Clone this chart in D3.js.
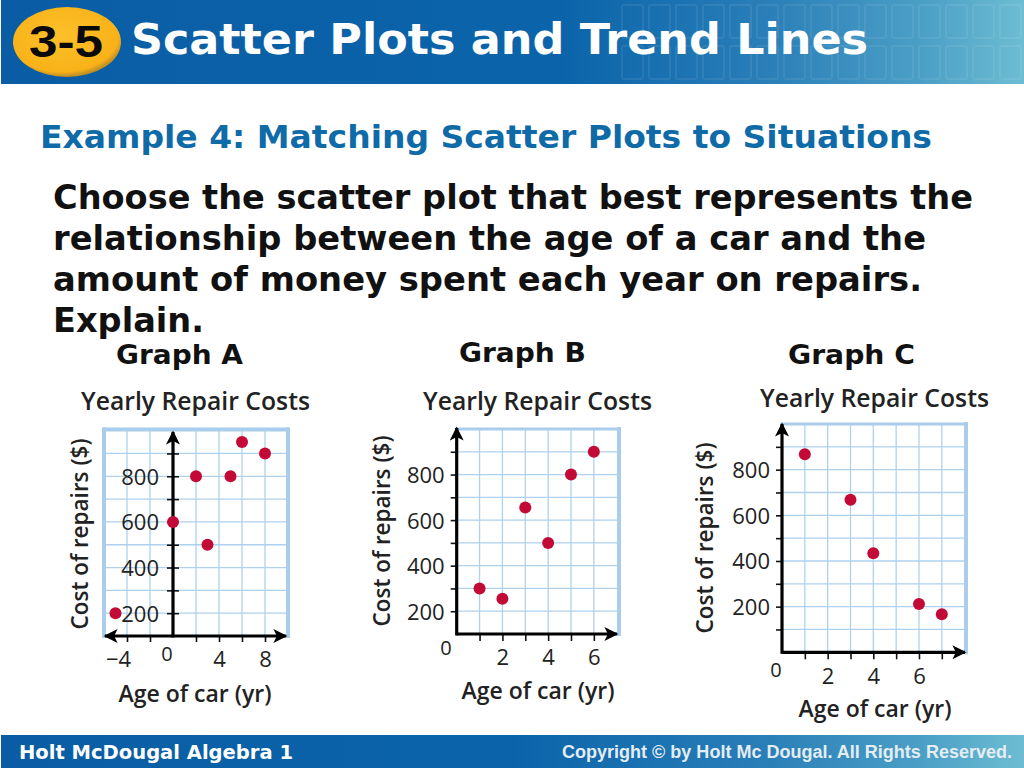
<!DOCTYPE html>
<html><head><meta charset="utf-8">
<script src="https://cdn.jsdelivr.net/npm/d3@7"></script>
<style>html,body{margin:0;padding:0;background:#fff}svg{display:block}</style>
</head><body><svg id="c" width="1024" height="768"></svg>
<script>
// ---- data
const headerTitle = "Scatter Plots and Trend Lines";
const badgeLabel = "3-5";
const exampleTitle = "Example 4: Matching Scatter Plots to Situations";
const promptLines = ["Choose the scatter plot that best represents the","relationship between the age of a car and the","amount of money spent each year on repairs.","Explain."];
const footerLeft = "Holt McDougal Algebra 1";
const footerRight = "Copyright © by Holt Mc Dougal. All Rights Reserved.";
const chartTitle = "Yearly Repair Costs";
const xTitle = "Age of car (yr)";
const yTitle = "Cost of repairs ($)";

const graphAx = [-5,0,2,3,5,6,8];
const graphAy = [200,600,800,500,800,950,900];
const graphBx = [1,2,3,4,5,6];
const graphBy = [300,255,655,500,800,900];
const graphCx = [1,3,4,6,7];
const graphCy = [867,668,434,212,167];
const yLabelTicks = [200,400,600,800];
const graphAxTicks = [-4,-2,2,4,6,8];
const graphAxLabels = [-4,4,8];
const graphAyTicks = [200,300,400,500,600,700,800,900];
const graphBxTicks = [1,2,3,4,5,6];
const graphByTicks = [200,300,400,500,600,700,800,900];
const graphCxTicks = [1,2,3,4,5,6,7];
const graphCyTicks = [100,200,300,400,500,600,700,800,900];
const xLabelsBC = [2,4,6];

// ---- layout
const svg = d3.select("#c");
const defs = svg.append("defs");
function grad(id, stops){
  const g = defs.append("linearGradient").attr("id",id);
  stops.forEach(s=>g.append("stop").attr("offset",s[0]).attr("stop-color",s[1]));
}
grad("hdr",[[0,"#0a5da4"],[0.55,"#0b64aa"],[0.75,"#2a7fb8"],[0.9,"#4b9fc6"],[1,"#6dbdd2"]]);
grad("ftr",[[0,"#0a5da4"],[0.5,"#0b64aa"],[0.75,"#2a7fb8"],[0.9,"#4b9fc6"],[1,"#6dbdd2"]]);
const rg = defs.append("radialGradient").attr("id","badge").attr("cx","45%").attr("cy","40%").attr("r","62%");
rg.append("stop").attr("offset",0).attr("stop-color","#fcc02a");
rg.append("stop").attr("offset",0.85).attr("stop-color","#f9b218");
rg.append("stop").attr("offset",1).attr("stop-color","#a98228");
const mk = defs.append("marker").attr("id","arrow").attr("viewBox","0 0 10 10").attr("refX",9).attr("refY",5)
  .attr("markerUnits","userSpaceOnUse").attr("markerWidth",16).attr("markerHeight",14).attr("orient","auto-start-reverse");
mk.append("path").attr("d","M0,0 L10,5 L0,10 L2.5,5 Z").attr("fill","#000");

const SANS = "'DejaVu Sans',sans-serif", CHART = "'Open Sans',sans-serif", ARIAL = "'Liberation Sans',sans-serif";

// header band
svg.append("rect").attr("x",1).attr("y",0).attr("width",1023).attr("height",84).attr("fill","url(#hdr)");
const cols = d3.range(0,15), rows=[5,46];
rows.forEach(y=>cols.forEach(i=>{
  svg.append("rect").attr("x",622+i*27).attr("y",y).attr("width",21).attr("height",33).attr("rx",2)
    .attr("fill","none").attr("stroke","#fff").attr("stroke-opacity",0.07).attr("stroke-width",2);
}));
svg.append("ellipse").attr("cx",67).attr("cy",42).attr("rx",54).attr("ry",35).attr("fill","url(#badge)");
svg.append("text").attr("x",66).attr("y",57).attr("text-anchor","middle").attr("font-family",ARIAL)
  .attr("font-weight",700).attr("font-size",44).attr("fill","#0a0a0a").attr("textLength",74).attr("lengthAdjust","spacingAndGlyphs").text(badgeLabel);
svg.append("text").attr("x",131).attr("y",54).attr("font-family",SANS).attr("font-weight",700).attr("font-size",42)
  .attr("fill","#fff").attr("textLength",737).attr("lengthAdjust","spacingAndGlyphs").text(headerTitle);

svg.append("text").attr("x",40).attr("y",148).attr("font-family",SANS).attr("font-weight",700).attr("font-size",32)
  .attr("fill","#0f6aa8").attr("textLength",892).attr("lengthAdjust","spacingAndGlyphs").text(exampleTitle);

const promptW = [920,873,869,151];
svg.selectAll("text.p").data(promptLines).join("text").attr("class","p")
  .attr("x",53).attr("y",(d,i)=>209+i*41).attr("font-family",SANS).attr("font-weight",700).attr("font-size",33)
  .attr("fill","#111").attr("textLength",(d,i)=>promptW[i]).attr("lengthAdjust","spacingAndGlyphs").text(d=>d);

// footer band
svg.append("rect").attr("x",1).attr("y",735).attr("width",1023).attr("height",33).attr("fill","url(#ftr)");
svg.append("text").attr("x",19).attr("y",759).attr("font-family",SANS).attr("font-weight",700).attr("font-size",20)
  .attr("fill","#fff").attr("textLength",274).attr("lengthAdjust","spacingAndGlyphs").text(footerLeft);
svg.append("text").attr("x",562).attr("y",758).attr("font-family",ARIAL).attr("font-weight",700).attr("font-size",18)
  .attr("fill","#e4edf2").attr("textLength",450).attr("lengthAdjust","spacingAndGlyphs").text(footerRight);

// graphs
function graph(o){
  const x = d3.scaleLinear().domain(o.xd).range(o.xr);
  const y = d3.scaleLinear().domain(o.yd).range(o.yr);
  const g = svg.append("g");
  const GRID = "#aed2ee", FRAME="#a9cdea";

  svg.append("text").attr("x",o.head[0]).attr("y",o.head[1]).attr("font-family",SANS).attr("font-weight",700)
    .attr("font-size",27).attr("fill","#111").attr("textLength",127).attr("lengthAdjust","spacingAndGlyphs").text(o.name);

  g.append("g").selectAll("line").data(o.xGrid).join("line")
    .attr("x1",d=>x(d)).attr("x2",d=>x(d)).attr("y1",o.yr[1]).attr("y2",o.yr[0])
    .attr("stroke",GRID).attr("stroke-width",1.3);
  g.append("g").selectAll("line").data(o.yGrid).join("line")
    .attr("y1",d=>y(d)).attr("y2",d=>y(d)).attr("x1",o.xr[0]).attr("x2",o.xr[1])
    .attr("stroke",GRID).attr("stroke-width",1.3);

  o.frame.forEach(f=>{
    const [a,b,c,d,w]=f==="top"?[o.xr[0],o.yr[1],o.xr[1],o.yr[1],o.fw[0]]
      :f==="right"?[o.xr[1],o.yr[1],o.xr[1],o.yr[0],o.fw[1]]
      :[o.xr[0],o.yr[1],o.xr[0],o.yr[0],o.fw[1]];
    g.append("line").attr("x1",a).attr("y1",b).attr("x2",c).attr("y2",d).attr("stroke",FRAME).attr("stroke-width",w).attr("stroke-linecap","square");
  });

  const yAxis = d3.axisLeft(y).tickValues(o.yTicks).tickSize(o.yTickLen)
    .tickPadding(o.yPad).tickFormat(d=>yLabelTicks.includes(d)?d:"");
  const yg = g.append("g").attr("transform",`translate(${x(o.yAt)},0)`).call(yAxis);
  yg.select(".domain").remove();
  yg.selectAll("line").attr("stroke","#111").attr("stroke-width",1.6);
  if(o.yTickBoth) yg.selectAll("line").attr("x1",o.yTickLen);
  yg.selectAll("text").attr("font-family",CHART).attr("font-size",22).attr("fill","#222").attr("dy","0.36em");

  const xAxis = d3.axisBottom(x).tickValues(o.xTicks).tickSize(o.xTickLen)
    .tickPadding(o.xPad).tickFormat(d=>o.xLabels.includes(d)?String(d).replace("-","\u2212"):"");
  const xg = g.append("g").attr("transform",`translate(0,${y(o.xAt)})`).call(xAxis);
  xg.select(".domain").remove();
  xg.selectAll("line").attr("stroke","#111").attr("stroke-width",1.6);
  xg.selectAll("text").attr("font-family",CHART).attr("font-size",22).attr("fill","#222")
    .attr("dx",d=>d<0?-9:0);

  const xl = g.append("line").attr("x1",o.xArrow[0]).attr("x2",o.xArrow[1]).attr("y1",y(o.xAt)).attr("y2",y(o.xAt))
    .attr("stroke","#000").attr("stroke-width",3.2).attr("marker-end","url(#arrow)");
  if(o.xBoth) xl.attr("marker-start","url(#arrow)");
  g.append("line").attr("x1",x(o.yAt)).attr("x2",x(o.yAt)).attr("y1",y(o.xAt)+1.5).attr("y2",o.yArrow)
    .attr("stroke","#000").attr("stroke-width",3.2).attr("marker-end","url(#arrow)");

  g.append("text").attr("x",o.zero[0]).attr("y",o.zero[1]).attr("text-anchor","middle").attr("font-family",CHART)
    .attr("font-size",20).attr("fill","#222").text("0");

  const tstyle = s=>s.attr("font-family",CHART).attr("font-weight",600).attr("fill","#222");
  g.append("text").attr("x",o.title[0]).attr("y",o.title[1]).attr("font-size",25).call(tstyle)
    .attr("textLength",229).attr("lengthAdjust","spacingAndGlyphs").text(chartTitle);
  g.append("text").attr("x",o.xt[0]).attr("y",o.xt[1]).attr("text-anchor","middle").attr("font-size",23).call(tstyle).text(xTitle);
  g.append("text").attr("transform",`translate(${o.yt[0]},${o.yt[1]}) rotate(-90)`).attr("text-anchor","middle").attr("font-size",22.5).call(tstyle).text(yTitle);

  g.append("g").selectAll("circle").data(o.xs.map((v,i)=>[v,o.ys[i]])).join("circle")
    .attr("cx",d=>x(d[0])).attr("cy",d=>y(d[1])).attr("r",6).attr("fill","#c30a36");
}

graph({name:"Graph A",head:[116,364],
  xd:[-6,10],xr:[104,288],yd:[100,1005],yr:[636,429.5],
  xs:graphAx,ys:graphAy,xGrid:[-4,-2,2,4,6,8],yGrid:graphAyTicks,
  yTicks:graphAyTicks,xTicks:graphAxTicks,xLabels:graphAxLabels,yAt:0,xAt:100,
  yTickLen:6,yPad:8,xTickLen:6,xPad:9,yTickBoth:true,
  frame:["left","top","right"],fw:[4,4],
  xArrow:[105,286],xBoth:true,yArrow:432,
  zero:[167,661],title:[81,410],xt:[195,702],yt:[88,534]});

graph({name:"Graph B",head:[459,362],
  xd:[0,7.1],xr:[456.7,619],yd:[100,1000],yr:[634,429],
  xs:graphBx,ys:graphBy,xGrid:graphBxTicks,yGrid:graphByTicks,
  yTicks:graphByTicks,xTicks:graphBxTicks,xLabels:xLabelsBC,yAt:0,xAt:100,
  yTickLen:6,yPad:6,xTickLen:7,xPad:8,
  frame:["top","right"],fw:[3,4],
  xArrow:[456.7,617],yArrow:428,
  zero:[446,655],title:[423,410],xt:[538,699],yt:[390,531]});

graph({name:"Graph C",head:[788,364],
  xd:[0,8.06],xr:[782,966],yd:[0,1000],yr:[652.3,424],
  xs:graphCx,ys:graphCy,xGrid:graphCxTicks,yGrid:graphCyTicks,
  yTicks:graphCyTicks,xTicks:graphCxTicks,xLabels:xLabelsBC,yAt:0,xAt:0,
  yTickLen:6,yPad:6,xTickLen:7,xPad:9,
  frame:["top","right"],fw:[3,4],
  xArrow:[782,965],yArrow:424,
  zero:[776,677],title:[760,407],xt:[875,717],yt:[713,538]});
</script></body></html>
